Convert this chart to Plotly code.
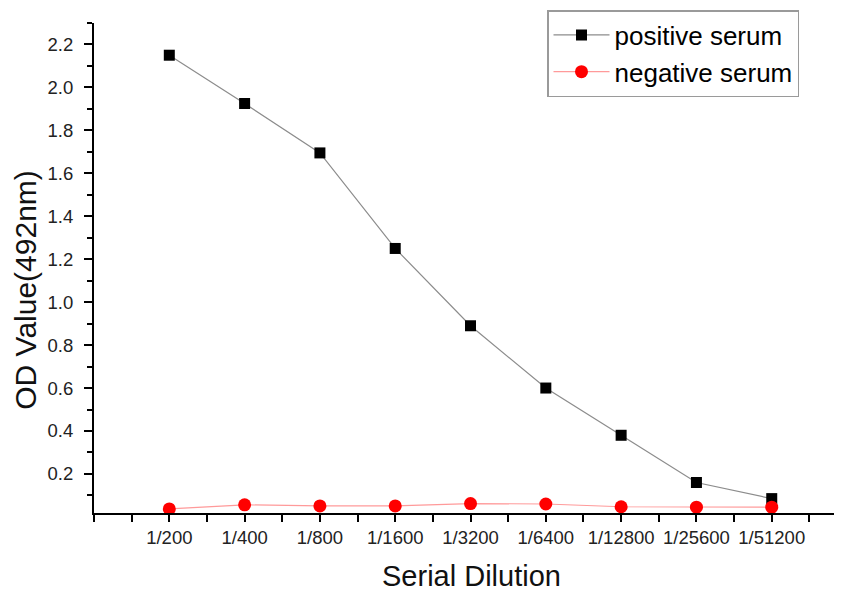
import plotly.graph_objects as go

categories = ["1/200", "1/400", "1/800", "1/1600", "1/3200", "1/6400", "1/12800", "1/25600", "1/51200"]
positive = [2.15, 1.925, 1.695, 1.25, 0.89, 0.60, 0.38, 0.16, 0.085]
negative = [0.037, 0.056, 0.051, 0.051, 0.062, 0.060, 0.047, 0.045, 0.045]
y_ticks = [0.2, 0.4, 0.6, 0.8, 1.0, 1.2, 1.4, 1.6, 1.8, 2.0, 2.2]
y_ticktext = ["0.2", "0.4", "0.6", "0.8", "1.0", "1.2", "1.4", "1.6", "1.8", "2.0", "2.2"]
x_title = "Serial Dilution"
y_title = "OD Value(492nm)"

xs = list(range(len(categories)))
FONT = "Arial, 'Liberation Sans', sans-serif"

# page body adds an 8px offset; margins compensate so the plot lands where the reference has it
L, T = 86, 15
PW, PH = 741, 490.5
W, H = 842, 593

fig = go.Figure()
fig.add_trace(go.Scatter(
    x=xs, y=positive, name="positive serum", mode="lines+markers",
    line=dict(color="#8c8c8c", width=1.2),
    marker=dict(symbol="square", size=11, color="black"),
))
fig.add_trace(go.Scatter(
    x=xs, y=negative, name="negative serum", mode="lines+markers",
    line=dict(color="#ff9a9a", width=1.2),
    marker=dict(symbol="circle", size=13, color="#ff0000"),
))

def px_to_paper(sx, sy):
    fx, fy = sx - 8, sy - 8
    return (fx - L) / PW, (T + PH - fy) / PH

xtx, xty = px_to_paper(471, 577)
ytx, yty = px_to_paper(26, 290)

fig.update_layout(
    width=W, height=H,
    margin=dict(l=L, r=W - L - PW, t=T, b=H - T - PH, autoexpand=False),
    paper_bgcolor="white", plot_bgcolor="white",
    font=dict(family=FONT, color="#222222"),
    showlegend=True,
    legend=dict(
        xref="container", yref="container",
        x=(547 - 8) / W, y=1 - (10 - 8) / H, xanchor="left", yanchor="top",
        bordercolor="#9a9a9a", borderwidth=1.5,
        font=dict(size=26, family=FONT, color="black"),
        bgcolor="white", tracegroupgap=0, itemwidth=56,
    ),
    xaxis=dict(
        range=[-1, 8.84], automargin=False,
        tickmode="array", tickvals=xs, ticktext=categories,
        ticks="outside", ticklen=7, tickwidth=1.5, tickcolor="black",
        minor=dict(ticks="outside", dtick=0.5, tick0=0.5, ticklen=7, tickwidth=1.5, tickcolor="black"),
        showline=True, linecolor="black", linewidth=2,
        showgrid=False, zeroline=False,
        tickfont=dict(size=18.5, family=FONT, color="#222222"),
        ticklabelstandoff=0,
    ),
    yaxis=dict(
        range=[0.018, 2.3], automargin=False,
        tickmode="array", tickvals=y_ticks, ticktext=y_ticktext,
        ticks="outside", ticklen=8, tickwidth=1.5, tickcolor="black",
        minor=dict(ticks="outside", dtick=0.1, tick0=0.1, ticklen=5, tickwidth=1.5, tickcolor="black"),
        showline=True, linecolor="black", linewidth=2,
        showgrid=False, zeroline=False,
        tickfont=dict(size=18.5, family=FONT, color="#222222"),
        ticklabelstandoff=7,
    ),
    annotations=[
        dict(text=x_title, xref="paper", yref="paper", x=xtx, y=xty,
             xanchor="center", yanchor="middle", showarrow=False,
             font=dict(size=29, family=FONT, color="#111111")),
        dict(text=y_title, xref="paper", yref="paper", x=ytx, y=yty,
             xanchor="center", yanchor="middle", showarrow=False, textangle=-90,
             font=dict(size=30, family=FONT, color="#111111")),
    ],
)

fig.write_html("out.html")
